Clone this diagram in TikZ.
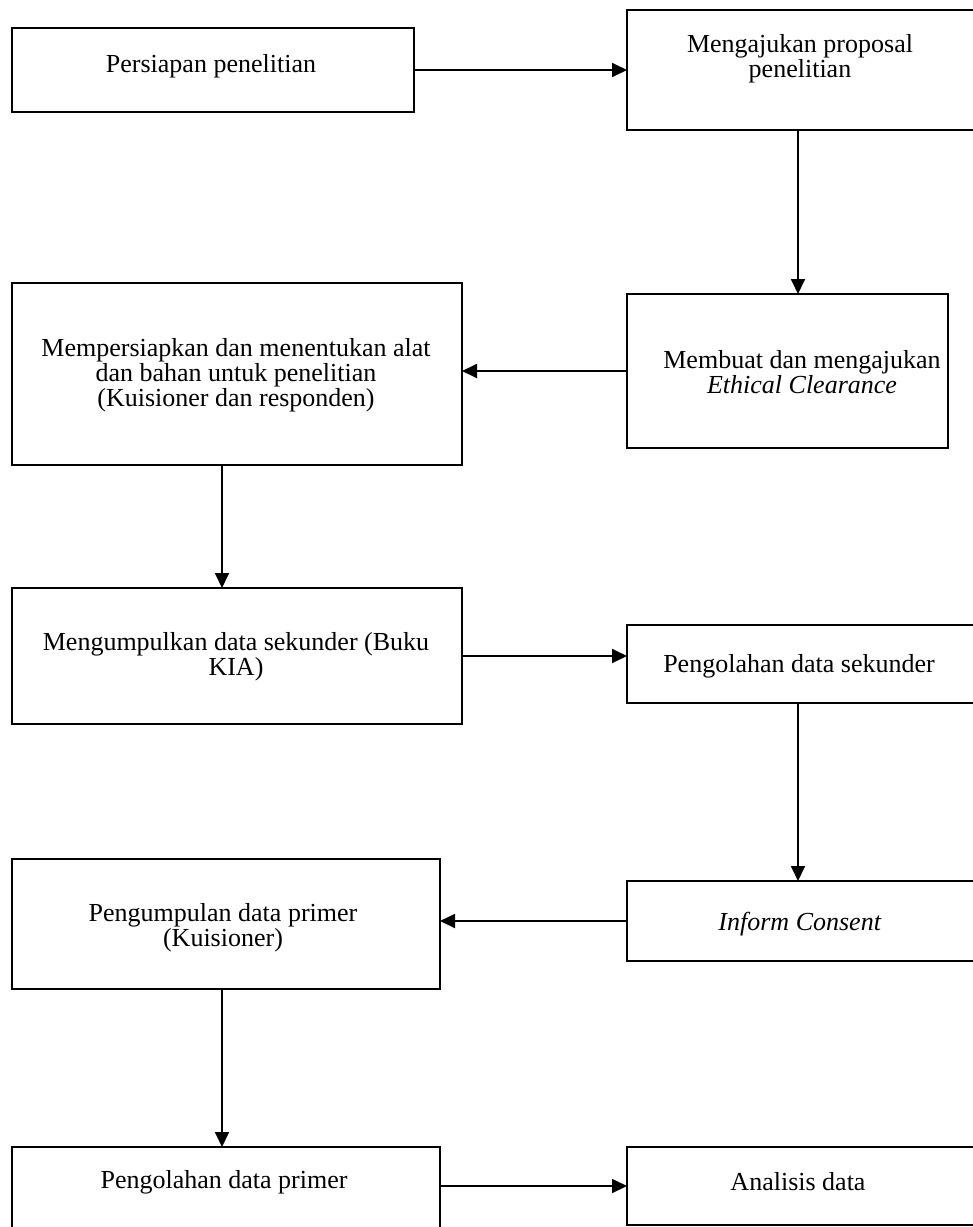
\documentclass[tikz,border=0pt]{standalone}
\usepackage{fontspec}
\setmainfont{Liberation Serif}
\usetikzlibrary{arrows.meta}
\begin{document}
\begin{tikzpicture}[x=1pt,y=-1pt,
  box/.style={draw=black, line width=1.6pt, inner sep=0pt, outer sep=0pt, fill=none},
  lbl/.style={inner sep=0pt, outer sep=0pt, align=center, font=\fontsize{26}{25}\selectfont},
  arr/.style={line width=1.8pt, -{Triangle[length=15pt,width=14pt]}}]
\useasboundingbox (0,0) rectangle (973,1227);
% boxes
\node[box, minimum width=402pt, minimum height=84pt]  (b1)  at (213,70) {};
\node[box, minimum width=353pt, minimum height=120pt] (b2)  at (803.5,70) {};
\node[box, minimum width=321pt, minimum height=154pt] (b3)  at (787.5,371) {};
\node[box, minimum width=450pt, minimum height=182pt] (b4)  at (237,374) {};
\node[box, minimum width=450pt, minimum height=136pt] (b5)  at (237,656) {};
\node[box, minimum width=353pt, minimum height=78pt]  (b6)  at (803.5,664) {};
\node[box, minimum width=428pt, minimum height=130pt] (b7)  at (226,924) {};
\node[box, minimum width=353pt, minimum height=80pt]  (b8)  at (803.5,921) {};
\node[box, minimum width=428pt, minimum height=94pt]  (b9)  at (226,1194) {};
\node[box, minimum width=353pt, minimum height=78pt]  (b10) at (803.5,1186) {};
% texts
\node[lbl] (t1)  at (211,66)    {Persiapan penelitian};
\node[lbl] (t2)  at (800,58.5)  {Mengajukan proposal\\penelitian};
\node[lbl] (t3)  at (802,372.5) {Membuat dan mengajukan\\\textit{Ethical Clearance}};
\node[lbl] (t4)  at (236,375.5) {Mempersiapkan dan menentukan alat\\dan bahan untuk penelitian\\(Kuisioner dan responden)};
\node[lbl] (t5)  at (236,657)   {Mengumpulkan data sekunder (Buku\\KIA)};
\node[lbl] (t6)  at (799,666)   {Pengolahan data sekunder};
\node[lbl] (t7)  at (223,927.5) {Pengumpulan data primer\\(Kuisioner)};
\node[lbl] (t8)  at (800,924)   {\textit{Inform Consent}};
\node[lbl] (t9)  at (224,1182)  {Pengolahan data primer};
\node[lbl] (t10) at (798,1182)  {Analisis data};
% connectors
\draw[arr] (b1.east) -- (b2.west);
\draw[arr] ([xshift=-5.5pt]b2.south) -- ([xshift=-5.5pt]b2.south |- b3.north);
\draw[arr] (b3.west) -- (b4.east |- b3.west);
\draw[arr] ([xshift=-15pt]b4.south) -- ([xshift=-15pt]b4.south |- b5.north);
\draw[arr] (b5.east) -- (b6.west |- b5.east);
\draw[arr] ([xshift=-5.5pt]b6.south) -- ([xshift=-5.5pt]b6.south |- b8.north);
\draw[arr] (b8.west) -- (b7.east |- b8.west);
\draw[arr] ([xshift=-4pt]b7.south) -- ([xshift=-4pt]b7.south |- b9.north);
\draw[arr] (b9.east |- b10.west) -- (b10.west);
\end{tikzpicture}
\end{document}
